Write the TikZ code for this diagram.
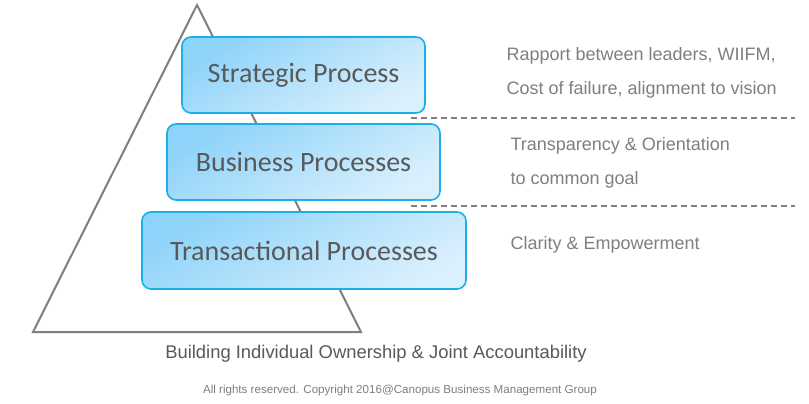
\documentclass[tikz,border=0pt]{standalone}
\usepackage{fontspec}
\setmainfont{Liberation Sans}
\newfontfamily\boxfont{Carlito}
\definecolor{boxline}{HTML}{1AAFE6}
\definecolor{boxdark}{HTML}{8ED3F9}
\definecolor{boxlight}{HTML}{DAF0FD}
\definecolor{boxtext}{HTML}{595959}
\definecolor{sidetext}{HTML}{7F7F7F}
\tikzset{
  procbox/.style={draw=boxline, line width=1.6pt, rounded corners=9pt,
    top color=boxdark, bottom color=boxlight, shading angle=30,
    font=\boxfont\fontsize{28}{32}\selectfont, text=boxtext, inner sep=0pt},
  sidenote/.style={anchor=west, font=\fontsize{18}{21}\selectfont, text=sidetext},
  divider/.style={draw=sidetext, line width=1.2pt, dash pattern=on 6pt off 4pt}
}
\begin{document}
\begin{tikzpicture}[x=1pt,y=-1pt]
\useasboundingbox[fill=white] (0,0) rectangle (809,404);

\draw[sidetext, line width=2pt] (197,5) -- (33,332) -- (361,332) -- cycle;

\node[procbox, minimum width=243pt, minimum height=76pt] (strat) at (303.5,75) {Strategic Process};
\node[procbox, minimum width=273pt, minimum height=76pt] (bus) at (303.5,162) {Business Processes};
\node[procbox, minimum width=324pt, minimum height=77pt] (trans) at (304,250.5) {Transactional Processes};

\node[sidenote] (rap) at (503,56) {Rapport between leaders, WIIFM,};
\node[sidenote] (cost) at (503,90) {Cost of failure, alignment to vision};
\node[sidenote] (transp) at (507,146) {Transparency \& Orientation};
\node[sidenote] (goal) at (507,180) {to common goal};
\node[sidenote] (clar) at (507,245) {Clarity \& Empowerment};

\coordinate (d1a) at (411,118);
\coordinate (d1b) at (795,118);
\coordinate (d2a) at (411,206);
\coordinate (d2b) at (795,206);
\draw[divider] (d1a) -- (d1b);
\draw[divider] (d2a) -- (d2b);

\node[font=\fontsize{18.4}{21}\selectfont, text=boxtext] (build) at (376,354) {Building Individual Ownership \& Joint Accountability};
\node[font=\fontsize{11.6}{13}\selectfont, text=sidetext] (copy) at (400,390) {All rights reserved. Copyright 2016@Canopus Business Management Group};

\end{tikzpicture}
\end{document}
